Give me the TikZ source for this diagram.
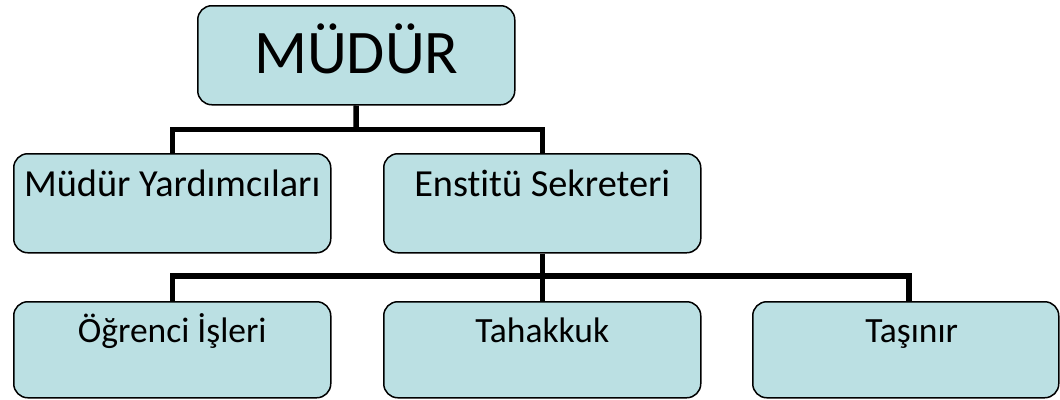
\documentclass[tikz,border=0pt]{standalone}
\usepackage{fontspec}
\setmainfont[Ligatures={NoCommon}]{Carlito}
\definecolor{boxfill}{RGB}{187,224,227}
\begin{document}
\begin{tikzpicture}[x=1pt,y=-1pt,
  orgbox/.style={draw=black, line width=1.5pt, fill=boxfill, rounded corners=14pt,
    inner sep=0pt, anchor=north west, align=center},
  midrow/.style={orgbox, minimum width=317pt, text height=43pt, text depth=56pt,
    font=\fontsize{38.3}{43}\selectfont},
  lowrow/.style={orgbox, minimum width=317pt, text height=41pt, text depth=55pt,
    font=\fontsize{35.5}{40}\selectfont},
  conn/.style={line width=5.5pt, line join=miter}]
\useasboundingbox (0,0) rectangle (1060,399);
\node[orgbox, minimum width=317pt, text height=68pt, text depth=31pt,
      font=\fontsize{62}{66}\selectfont] (mudur) at (197,5) {MÜDÜR};
\node[midrow] (my) at (13,153) {Müdür Yardımcıları};
\node[midrow] (es) at (383,153) {Enstitü Sekreteri};
\node[lowrow] (ogr) at (13,301) {Öğrenci İşleri};
\node[lowrow] (tah) at (383,301) {Tahakkuk};
\node[lowrow, minimum width=306pt] (tas) at (752,301) {\hspace*{12pt}Taşınır};
\coordinate (h1) at (356,129.5);
\coordinate (h2) at (541,276);
\coordinate (tastop) at (909,301);
\draw[conn] (mudur.south) -- (h1);
\draw[conn] (my.north) |- (h1) -| (es.north);
\draw[conn] (es.south) -- (tah.north);
\draw[conn] (ogr.north) |- (h2) -| (tastop);
\end{tikzpicture}
\end{document}
